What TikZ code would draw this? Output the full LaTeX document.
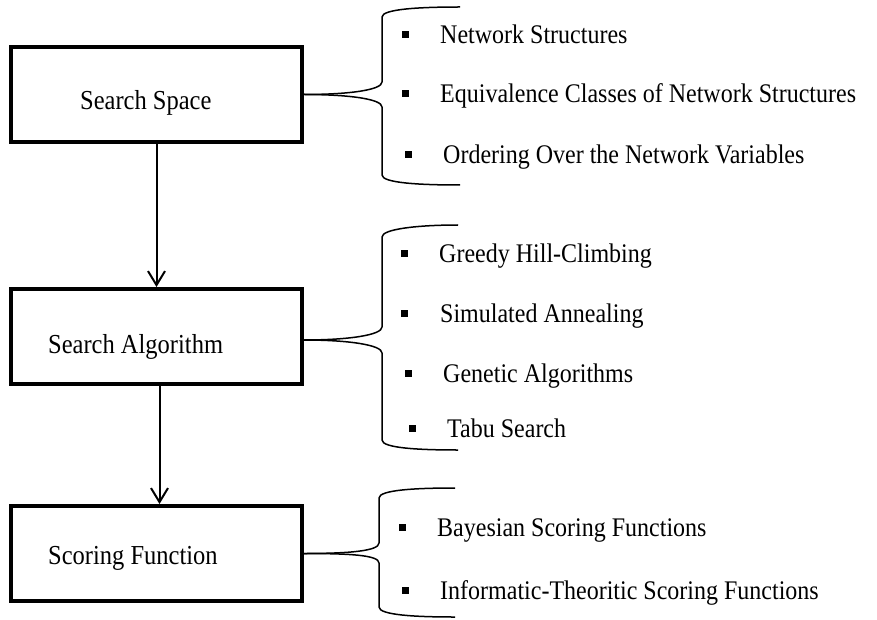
\documentclass[tikz,border=0pt]{standalone}
\usepackage{fontspec}
\setmainfont{Liberation Serif}
\usepackage{tikz}
\usetikzlibrary{arrows.meta}
\tikzset{>/.tip={Straight Barb[length=14pt,width=17pt]}}
\newcommand{\tall}[1]{\scalebox{1}[1.12]{#1}}

\begin{document}
\begin{tikzpicture}[x=1pt,y=-1pt,
  box/.style={draw,line width=4pt,minimum width=291pt,minimum height=95pt,inner sep=0pt},
  title/.style={anchor=base west,inner sep=0pt,font=\fontsize{24.5}{28}\selectfont},
  item/.style={anchor=base west,inner sep=0pt,font=\fontsize{24}{28}\selectfont},
  dot/.style={fill=black,inner sep=0pt,minimum size=7pt},
  flow/.style={->,line width=2pt},
  curly/.style={line width=1.5pt}]
\useasboundingbox (0,0) rectangle (877,620);
\node[box] (space) at (156.5,94.5) {};
\node[box] (algo)  at (156.5,336.5) {};
\node[box] (score) at (156.5,553.5) {};
\node[title] (spacetxt) at (80,110) {\tall{Search Space}};
\node[title] (algotxt)  at (48,353) {\tall{Search Algorithm}};
\node[title] (scoretxt) at (48,564) {\tall{Scoring Function}};
\draw[flow] (space.south) -- (algo.north);
\draw[flow] ([xshift=3pt]algo.south) -- ([xshift=3pt]score.north);
\coordinate (sstop) at (460,7);
\coordinate (ssbot) at (460,185);
\coordinate (satop) at (458,225);
\coordinate (sabot) at (458,450);
\coordinate (sftop) at (455,488);
\coordinate (sfbot) at (455,617);
\draw[curly] (space.east) .. controls +(45,0) and +(0,8) .. (382,82) -- (382,17)
  .. controls +(0,-8) and +(-40,0) .. (sstop);
\draw[curly] (space.east) .. controls +(45,0) and +(0,-8) .. (382,107) -- (382,175)
  .. controls +(0,8) and +(-40,0) .. (ssbot);
\draw[curly] ([yshift=-3.5pt]algo.east) .. controls +(45,0) and +(0,8) .. (382,327) -- (382,237)
  .. controls +(0,-8) and +(-40,0) .. (satop);
\draw[curly] ([yshift=-3.5pt]algo.east) .. controls +(45,0) and +(0,-8) .. (382,353) -- (382,440)
  .. controls +(0,8) and +(-40,0) .. (sabot);
\draw[curly] (score.east) .. controls +(45,0) and +(0,8) .. (379,543) -- (379,498)
  .. controls +(0,-8) and +(-40,0) .. (sftop);
\draw[curly] (score.east) .. controls +(45,0) and +(0,-8) .. (379,563) -- (379,607)
  .. controls +(0,8) and +(-40,0) .. (sfbot);
\foreach \n/\bx/\tx/\y/\txt in {ss1/405/440/35/Network Structures,
  ss2/405/440/94/Equivalence Classes of Network Structures,
  ss3/408/443/155/Ordering Over the Network Variables,
  sa1/404/439/253/Greedy Hill-Climbing,
  sa2/404/440/313/Simulated Annealing,
  sa3/408/443/373/Genetic Algorithms,
  sa4/412/447/428/Tabu Search,
  sf1/402/437/527/Bayesian Scoring Functions,
  sf2/405/440/590/Informatic-Theoritic Scoring Functions}
{
  \node[dot] (\n b) at (\bx,\y) {};
  \node[item] (\n) at (\tx,\y+9) {\tall{\txt}};
}
\end{tikzpicture}
\end{document}
